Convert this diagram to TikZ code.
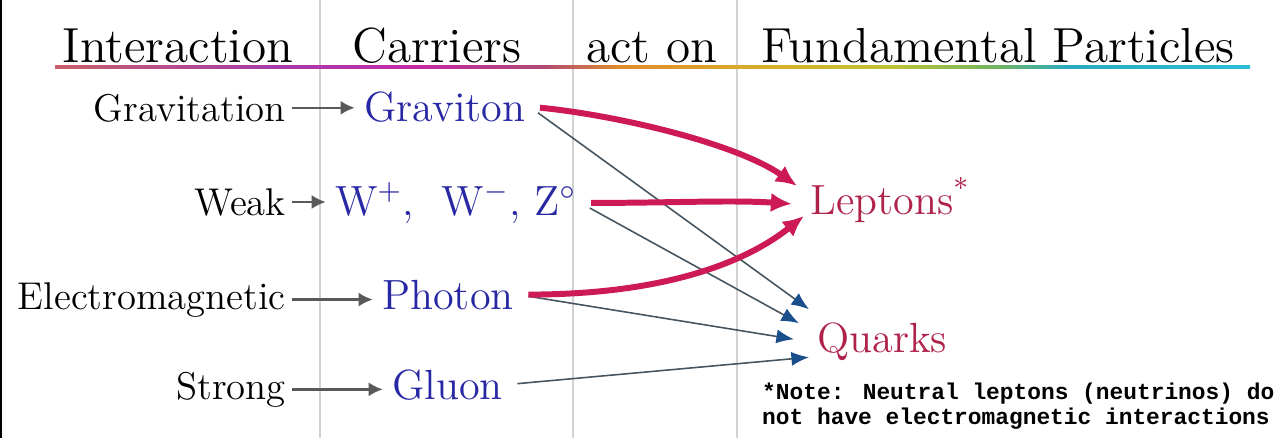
\documentclass[tikz,border=0pt]{standalone}
\usepackage{fontspec}
\usepackage{xcolor}
\usepackage{tikz}
\usetikzlibrary{arrows.meta,calc}
\newfontfamily\notefont{Liberation Mono}
\definecolor{carrierblue}{RGB}{40,40,165}
\definecolor{crimson}{RGB}{205,25,85}
\definecolor{partred}{RGB}{175,35,75}
\definecolor{slate}{RGB}{70,85,95}
\definecolor{headblue}{RGB}{25,80,140}
\definecolor{ulA}{RGB}{200,95,105}
\definecolor{ulB}{RGB}{165,60,170}
\definecolor{ulC}{RGB}{195,40,165}
\definecolor{ulD}{RGB}{175,75,115}
\definecolor{ulE}{RGB}{225,140,45}
\definecolor{ulF}{RGB}{215,175,40}
\definecolor{ulG}{RGB}{190,195,50}
\definecolor{ulH}{RGB}{110,180,100}
\definecolor{ulI}{RGB}{40,170,195}
\definecolor{ulJ}{RGB}{45,190,215}

\begin{document}
\begin{tikzpicture}[x=0.01cm,y=-0.01cm,
  colhead/.style={font=\fontsize{14}{16}\selectfont, anchor=base, inner sep=1pt},
  force/.style={font=\fontsize{11}{13}\selectfont, anchor=base east, inner sep=1pt},
  carrier/.style={font=\fontsize{12}{14}\selectfont, text=carrierblue, anchor=base west, inner sep=1pt},
  particle/.style={font=\fontsize{12}{14}\selectfont, text=partred, anchor=base west, inner sep=1pt},
  note/.style={font=\notefont\bfseries\fontsize{6.5}{7.1}\selectfont, align=left, anchor=north west, inner sep=1pt},
  divider/.style={gray!35, line width=0.6pt},
  feed/.style={-{Latex[length=4pt,width=4pt]}, gray!70!black, line width=0.7pt, shorten <=0.5pt, shorten >=1.5pt},
  heavy/.style={-{Latex[length=6pt,width=5.5pt]}, crimson, line width=1.7pt, shorten <=3pt},
  light/.style={-{Latex[length=5pt,width=4pt,color=headblue]}, slate, line width=0.45pt, shorten <=3pt}
]
\useasboundingbox (0,0) rectangle (1287,438);
\draw[black, line width=0.6pt] (1,0) -- (1,438);
\foreach \x in {320,573,737}
  \draw[divider] (\x,0) -- (\x,438);

% column heads and the coloured rule below them
\node[colhead] (hinter) at (178,62) {Interaction};
\node[colhead] (hcarr) at (437,62) {Carriers};
\node[colhead] (hact) at (652,62) {act on};
\node[colhead] (hfund) at (998,62) {Fundamental Particles};
\foreach \xa/\xb/\ca/\cb in {55/270/ulA/ulB,270/420/ulB/ulC,420/545/ulC/ulD,545/620/ulD/ulE,
  620/770/ulE/ulF,770/890/ulF/ulG,890/1000/ulG/ulH,1000/1070/ulH/ulI,1070/1250/ulI/ulJ}
  \shade[left color=\ca, right color=\cb] (\xa,65.5) rectangle (\xb,68);

% interactions and their carriers
\node[force] (gravitation) at (290,121) {Gravitation};
\node[force] (weak) at (290,215) {Weak};
\node[force] (electromag) at (290,309) {Electromagnetic};
\node[force] (strong) at (290,399) {Strong};
\node[carrier] (graviton) at (360,121) {Graviton};
\node[carrier] (wboson) at (331,215) {W$^{+}$,\ \ W$^{-}$, Z$^{\circ}$};
\node[carrier] (photon) at (378,309) {Photon};
\node[carrier] (gluon) at (388,399) {Gluon};
\foreach \f/\c in {gravitation/graviton,weak/wboson,electromag/photon,strong/gluon}
  \draw[feed] (\f.east) -- (\f.east -| \c.west);

% particles
\node[particle] (leptons) at (806,214) {Leptons\textsuperscript{*}};
\node[particle] (quarks) at (813,352) {Quarks};
\node[note] (footnote) at (758,379) {*Note: Neutral leptons (neutrinos) do\\not have electromagnetic interactions};

\draw[light] (graviton.east) -- ($(quarks.west)+(-4,-32)$);
\draw[light] (wboson.east) -- ($(quarks.west)+(-14,-18)$);
\draw[light] (photon.east) -- ($(quarks.west)+(-19,-2)$);
\draw[light] (gluon.east) -- ($(quarks.west)+(-4,16)$);
\draw[heavy] (graviton.east) .. controls +(90,9) and +(-60,-42) .. ($(leptons.west)+(-9,-14)$);
\draw[heavy] (wboson.east) .. controls +(90,0) and +(-60,-4) .. ($(leptons.west)+(-14,4)$);
\draw[heavy] (photon.east) .. controls +(160,0) and +(-50,40) .. ($(leptons.west)+(-2,16)$);
\end{tikzpicture}
\end{document}
